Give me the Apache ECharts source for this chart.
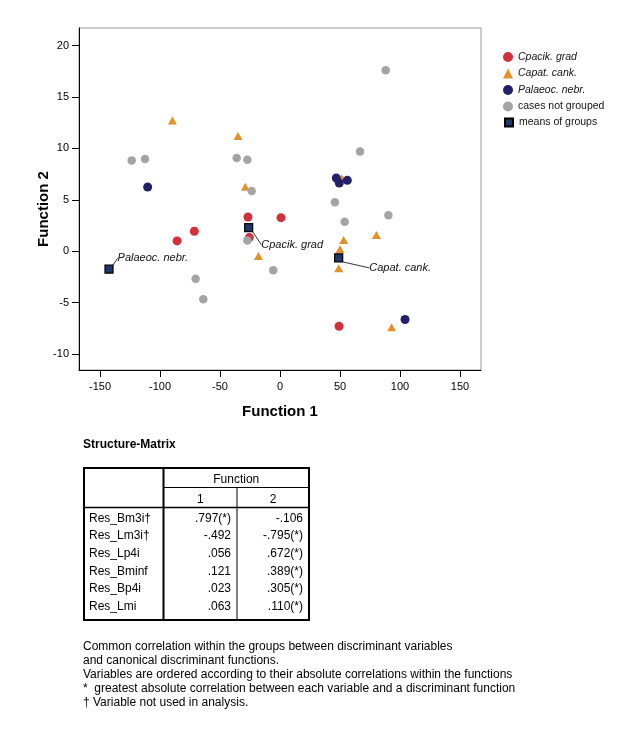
<!DOCTYPE html>
<html><head><meta charset="utf-8">
<script src="https://cdn.jsdelivr.net/npm/echarts@6/dist/echarts.min.js"></script>
<style>html,body{margin:0;padding:0;background:#fff}#c{width:637px;height:735px}</style>
</head><body><div id="c"></div>
<script>
// ---- data ----
const cpacikGrad = [[-85.8,1.0],[-71.4,1.94],[-26.7,3.33],[0.8,3.26],[-25.6,1.32],[49.2,-7.3]];
const capatCank = [[-89.7,12.7],[-35,11.2],[-28.9,6.27],[51.4,7.1],[-18,-0.46],[53,1.1],[80.3,1.58],[50,0.19],[48.9,-1.65],[93,-7.4]];
const palaeocNebr = [[-110.3,6.24],[46.9,7.12],[49.4,6.63],[56.1,6.89],[104.2,-6.64]];
const notGrouped = [[-123.6,8.83],[-112.5,8.96],[-36.1,9.06],[-27.2,8.9],[-23.6,5.85],[88.1,17.6],[66.7,9.7],[45.8,4.76],[53.9,2.87],[90.3,3.5],[-5.6,-1.84],[-27.2,1.03],[-70.3,-2.69],[-63.9,-4.66]];
const groupMeans = [[-26.1,2.29],[48.9,-0.65],[-142.5,-1.75]];
const meanLabels = ['Cpacik. grad','Capat. cank.','Palaeoc. nebr.'];
const seriesNames = ['Cpacik. grad','Capat. cank.','Palaeoc. nebr.','cases not grouped','means of groups'];
const xTicks = [-150,-100,-50,0,50,100,150];
const yTicks = [-10,-5,0,5,10,15,20];
const tableTitle = 'Structure-Matrix';
const tableHeader = 'Function';
const tableColumns = ['1','2'];
const tableRows = ['Res_Bm3i\u2020','Res_Lm3i\u2020','Res_Lp4i','Res_Bminf','Res_Bp4i','Res_Lmi'];
const function1 = ['.797(*)','-.492','.056','.121','.023','.063'];
const function2 = ['-.106','-.795(*)','.672(*)','.389(*)','.305(*)','.110(*)'];
const footnotes = [
  'Common correlation within the groups between discriminant variables',
  'and canonical discriminant functions.',
  'Variables are ordered according to their absolute correlations within the functions',
  '*  greatest absolute correlation between each variable and a discriminant function',
  '\u2020 Variable not used in analysis.'
];

const FONT = '"Liberation Sans", Arial, Helvetica, sans-serif';
const chart = echarts.init(document.getElementById('c'), null, {renderer: 'canvas'});

// ---- table + notes as graphic elements ----
const g = [];
g.push({type:'text', x:83, y:445, style:{text:tableTitle, font:'bold 12px '+FONT, fill:'#000', verticalAlign:'middle'}});
const T = {l:84, r:309, t:468, b:620, c0:163.5, c1:237, h1:487.5, h2:507.5};
g.push({type:'rect', shape:{x:T.l, y:T.t, width:T.r-T.l, height:T.b-T.t}, style:{fill:'none', stroke:'#000', lineWidth:2}});
g.push({type:'line', shape:{x1:T.c0, y1:T.t, x2:T.c0, y2:T.b}, style:{stroke:'#000', lineWidth:2}});
g.push({type:'line', shape:{x1:T.c0, y1:T.h1, x2:T.r, y2:T.h1}, style:{stroke:'#000', lineWidth:1}});
g.push({type:'line', shape:{x1:T.l, y1:T.h2, x2:T.r, y2:T.h2}, style:{stroke:'#000', lineWidth:1.5}});
g.push({type:'line', shape:{x1:T.c1, y1:T.h1, x2:T.c1, y2:T.b}, style:{stroke:'#000', lineWidth:1}});
const cellFont = '12px '+FONT;
g.push({type:'text', x:(T.c0+T.r)/2, y:480, style:{text:tableHeader, font:cellFont, fill:'#000', align:'center', verticalAlign:'middle'}});
g.push({type:'text', x:(T.c0+T.c1)/2, y:500, style:{text:tableColumns[0], font:cellFont, fill:'#000', align:'center', verticalAlign:'middle'}});
g.push({type:'text', x:(T.c1+T.r)/2, y:500, style:{text:tableColumns[1], font:cellFont, fill:'#000', align:'center', verticalAlign:'middle'}});
tableRows.forEach((r,i)=>{
  const y = 518.3 + i*17.7;
  g.push({type:'text', x:89, y:y, style:{text:r, font:cellFont, fill:'#000', verticalAlign:'middle'}});
  g.push({type:'text', x:T.c1-6, y:y, style:{text:function1[i], font:cellFont, fill:'#000', align:'right', verticalAlign:'middle'}});
  g.push({type:'text', x:T.r-6, y:y, style:{text:function2[i], font:cellFont, fill:'#000', align:'right', verticalAlign:'middle'}});
});
footnotes.forEach((f,i)=>{
  g.push({type:'text', x:83, y:646.7 + i*14, style:{text:f, font:'12px '+FONT, fill:'#000', verticalAlign:'middle'}});
});

const meanOffsets = [[3,17],[21,10],[-1,-11]];

chart.setOption({
  animation:false,
  backgroundColor:'#fff',
  textStyle:{fontFamily:FONT},
  grid:{left:79, right:156, top:28, bottom:365, show:true, borderColor:'#9a9a9a', borderWidth:1, containLabel:false},
  xAxis:{
    type:'value', min:-167.5, max:167.5,
    name:'Function 1', nameLocation:'middle', nameGap:34,
    nameTextStyle:{fontSize:15, fontWeight:'bold', color:'#000', fontFamily:FONT},
    axisLine:{show:true, onZero:false, lineStyle:{color:'#000', width:1}},
    axisTick:{show:true, length:7, customValues:xTicks, lineStyle:{color:'#000'}},
    axisLabel:{customValues:xTicks, margin:11, fontSize:11, color:'#000', fontFamily:FONT},
    splitLine:{show:false}
  },
  yAxis:{
    type:'value', min:-11.55, max:21.7,
    name:'Function 2', nameLocation:'middle', nameGap:28, nameMoveOverlap:false,
    nameTextStyle:{fontSize:15, fontWeight:'bold', color:'#000', fontFamily:FONT, padding:[0,20,0,0]},
    axisLine:{show:true, onZero:false, lineStyle:{color:'#000', width:1}},
    axisTick:{show:true, length:7, customValues:yTicks, lineStyle:{color:'#000'}},
    axisLabel:{customValues:yTicks, margin:10, fontSize:11, color:'#000', fontFamily:FONT},
    splitLine:{show:false}
  },
  legend:[
    {orient:'vertical', left:498, top:46.5, itemWidth:10, itemHeight:10, itemGap:5.5, selectedMode:false,
     textStyle:{fontSize:10.5, color:'#111', fontFamily:FONT, padding:[0,0,0,0]},
     data:[
       {name:seriesNames[0], icon:'circle', textStyle:{fontStyle:'italic'}},
       {name:seriesNames[1], icon:'triangle', textStyle:{fontStyle:'italic'}},
       {name:seriesNames[2], icon:'circle', textStyle:{fontStyle:'italic'}},
       {name:seriesNames[3], icon:'circle'}
     ]},
    {orient:'vertical', left:499, top:112, itemWidth:8, itemHeight:8, selectedMode:false,
     textStyle:{fontSize:10.5, color:'#111', fontFamily:FONT, padding:[0,0,0,1]},
     data:[{name:seriesNames[4], icon:'rect'}]}
  ],
  series:[
    {name:seriesNames[0], type:'scatter', data:cpacikGrad, symbol:'circle', symbolSize:9, itemStyle:{color:'#d2303a', opacity:1}},
    {name:seriesNames[1], type:'scatter', data:capatCank, symbol:'triangle', symbolSize:[9,8], itemStyle:{color:'#e5902a', opacity:1}},
    {name:seriesNames[2], type:'scatter', data:palaeocNebr, symbol:'circle', symbolSize:9, itemStyle:{color:'#231f6b', opacity:1}},
    {name:seriesNames[3], type:'scatter', data:notGrouped, symbol:'circle', symbolSize:8.5, itemStyle:{color:'#a4a4a4', opacity:1}},
    {name:seriesNames[4], type:'scatter', data:groupMeans, symbol:'rect', symbolSize:8,
     itemStyle:{color:'#1f3768', borderColor:'#000', borderWidth:1.2, opacity:1},
     label:{show:true, position:'right', formatter:p=>meanLabels[p.dataIndex], fontSize:11, fontStyle:'italic', color:'#111', fontFamily:FONT},
     labelLine:{show:true, lineStyle:{color:'#000', width:0.8}},
     labelLayout:function(p){ const o = meanOffsets[p.dataIndex]; return {dx:o[0], dy:o[1]}; },
     z:5}
  ],
  graphic:g
});
</script></body></html>
